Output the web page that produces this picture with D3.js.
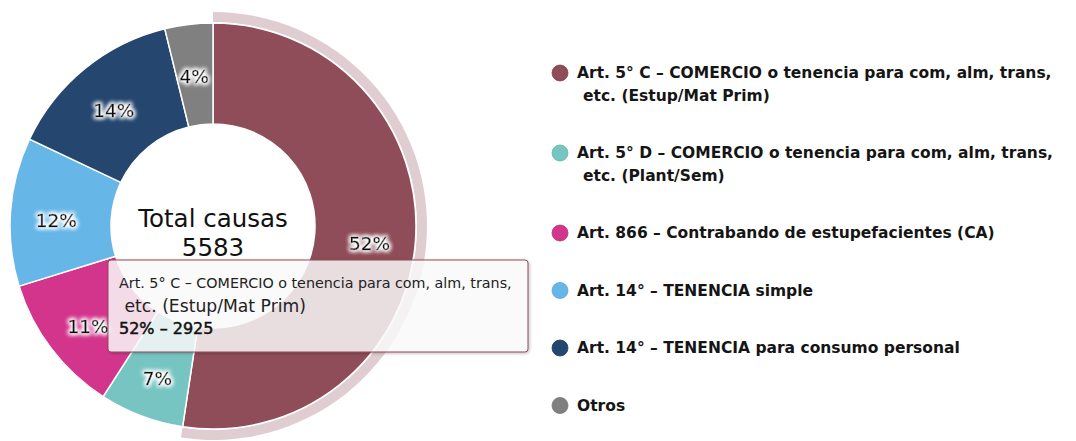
<!DOCTYPE html>
<html lang="es">
<head>
  <meta charset="utf-8">
  <title>Total causas</title>
  <script src="https://cdn.jsdelivr.net/npm/d3@7"></script>
  <style>
    body { margin: 0; background: #fff; }
    svg { display: block; font-family: "DejaVu Sans", sans-serif; }
  </style>
</head>
<body>
  <script>
    var width = 1076;
    var height = 441;

    // data
    var categories = [
      "Art. 5° C – COMERCIO o tenencia para com, alm, trans, etc. (Estup/Mat Prim)",
      "Art. 5° D – COMERCIO o tenencia para com, alm, trans, etc. (Plant/Sem)",
      "Art. 866 – Contrabando de estupefacientes (CA)",
      "Art. 14° – TENENCIA simple",
      "Art. 14° – TENENCIA para consumo personal",
      "Otros"
    ];
    var counts = [2925, 375, 620, 660, 790, 213];
    var colors = ["#8e4d58", "#76c5c3", "#d4358c", "#66b6e8", "#25476f", "#808080"];
    var centerLines = ["Total causas", "5583"];
    var hovered = 0;

    var cx = 213, cy = 226;
    var outer = 203, inner = 102;
    var total = d3.sum(counts);

    var svg = d3.select("body").append("svg")
      .attr("width", width)
      .attr("height", height);

    var defs = svg.append("defs");
    var glow = defs.append("filter").attr("id", "glow")
      .attr("x", "-30%").attr("y", "-50%").attr("width", "160%").attr("height", "200%");
    glow.append("feMorphology").attr("in", "SourceAlpha").attr("operator", "dilate").attr("radius", 1.4).attr("result", "d");
    glow.append("feGaussianBlur").attr("in", "d").attr("stdDeviation", 2).attr("result", "b");
    glow.append("feFlood").attr("flood-color", "#fff");
    glow.append("feComposite").attr("in2", "b").attr("operator", "in").attr("result", "g");
    var merge = glow.append("feMerge");
    merge.append("feMergeNode").attr("in", "g");
    merge.append("feMergeNode").attr("in", "g");
    merge.append("feMergeNode").attr("in", "SourceGraphic");

    var shadow = defs.append("filter").attr("id", "shadow")
      .attr("x", "-5%").attr("y", "-10%").attr("width", "110%").attr("height", "130%");
    shadow.append("feDropShadow").attr("dx", 1).attr("dy", 1).attr("stdDeviation", 1.5)
      .attr("flood-color", "#000").attr("flood-opacity", 0.3);

    var pie = d3.pie().sort(null).value(function (d) { return d; });
    var arcs = pie(counts);
    var arc = d3.arc().innerRadius(inner).outerRadius(outer);
    var halo = d3.arc().innerRadius(outer + 1).outerRadius(outer + 11);
    var labelArc = d3.arc().innerRadius(157).outerRadius(157);

    var g = svg.append("g").attr("transform", "translate(" + cx + "," + cy + ")");

    g.append("path")
      .attr("d", halo(arcs[hovered]))
      .attr("fill", colors[hovered])
      .attr("opacity", 0.28);

    g.selectAll("path.slice")
      .data(arcs)
      .enter()
      .append("path")
      .attr("class", "slice")
      .attr("d", arc)
      .attr("fill", function (d, i) { return colors[i]; })
      .attr("stroke", "#fff")
      .attr("stroke-width", 1.5);

    g.selectAll("text.pct")
      .data(arcs)
      .enter()
      .append("text")
      .attr("class", "pct")
      .attr("transform", function (d) {
        var c = labelArc.centroid(d);
        return "translate(" + c[0] + "," + (c[1] + 6) + ")";
      })
      .attr("text-anchor", "middle")
      .attr("dy", "0.35em")
      .attr("font-size", 18.5)
      .attr("fill", "#111")
      .attr("stroke", "#111")
      .attr("stroke-width", 0.4)
      .attr("filter", "url(#glow)")
      .text(function (d) { return Math.round(d.value / total * 100) + "%"; });

    g.selectAll("text.center")
      .data(centerLines)
      .enter()
      .append("text")
      .attr("class", "center")
      .attr("text-anchor", "middle")
      .attr("x", 0)
      .attr("y", function (d, i) { return -8 + i * 29; })
      .attr("dy", "0.35em")
      .attr("font-size", 24.5)
      .attr("fill", "#111")
      .text(function (d) { return d; });

    // legend
    var legend = svg.append("g").attr("transform", "translate(560,0)");
    var ly = 73;
    categories.forEach(function (name, i) {
      var item = legend.append("g").attr("transform", "translate(0," + ly + ")");
      item.append("circle").attr("r", 8).attr("fill", colors[i])
        .attr("stroke", d3.color(colors[i]).darker(0.3)).attr("stroke-width", 0.8);
      var t = item.append("text")
        .attr("x", 17)
        .attr("dy", "0.35em")
        .attr("font-size", 15.5)
        .attr("font-weight", "bold")
        .attr("fill", "#151515");
      // wrap at roughly the width of the legend column
      var words = name.split(" ");
      var line = [], lines = 1;
      var span = t.append("tspan").attr("x", 17);
      words.forEach(function (w) {
        line.push(w);
        span.text(line.join(" "));
        if (span.node().getComputedTextLength() > 490 && line.length > 1) {
          line.pop();
          span.text(line.join(" "));
          line = [w];
          span = t.append("tspan").attr("x", 23).attr("dy", 23).text(w);
          lines++;
        }
      });
      ly += 57.5 + (lines - 1) * 22.5;
    });

    // tooltip for the hovered slice
    var tip = svg.append("g").attr("transform", "translate(108,260)");
    tip.append("rect")
      .attr("width", 420).attr("height", 92)
      .attr("rx", 3)
      .attr("fill", "rgba(255,255,255,0.8)")
      .attr("stroke", colors[hovered])
      .attr("stroke-width", 1)
      .attr("filter", "url(#shadow)");
    var tipName = categories[hovered];
    var cut = tipName.indexOf(" etc.");
    tip.append("text").attr("x", 11).attr("y", 28)
      .attr("font-size", 14.3).attr("fill", "#222")
      .text(tipName.slice(0, cut));
    tip.append("text").attr("x", 11).attr("y", 52)
      .attr("font-size", 17.2).attr("fill", "#222")
      .attr("xml:space", "preserve")
      .text(" " + tipName.slice(cut + 1));
    tip.append("text").attr("x", 11).attr("y", 74)
      .attr("font-size", 16).attr("fill", "#111")
      .attr("stroke", "#111").attr("stroke-width", 0.5)
      .text(Math.round(counts[hovered] / total * 100) + "% – " + counts[hovered]);
  </script>
</body>
</html>
